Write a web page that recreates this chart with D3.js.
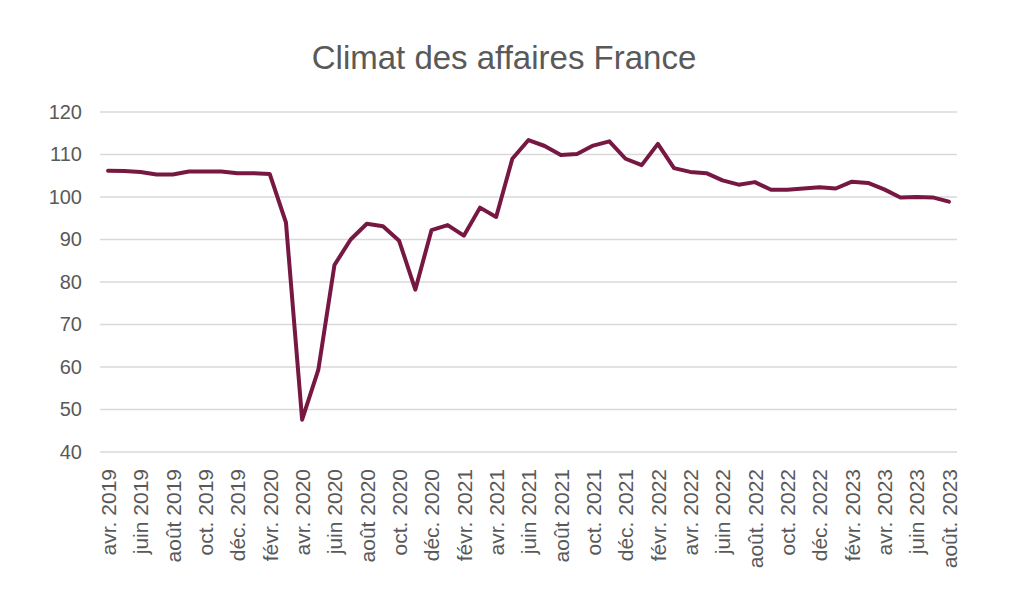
<!DOCTYPE html>
<html>
<head>
<meta charset="utf-8">
<script src="https://cdn.jsdelivr.net/npm/d3@7"></script>
<style>
  body { margin: 0; background: #fff; }
  text { font-family: "Liberation Sans", Arial, sans-serif; fill: #595959; }
</style>
</head>
<body>
<div id="chart"></div>
<script>
// Monthly values, avr. 2019 -> août 2023
const months = [
  "avr. 2019", "mai 2019", "juin 2019", "juil. 2019", "août 2019", "sept. 2019",
  "oct. 2019", "nov. 2019", "déc. 2019", "janv. 2020", "févr. 2020", "mars 2020",
  "avr. 2020", "mai 2020", "juin 2020", "juil. 2020", "août 2020", "sept. 2020",
  "oct. 2020", "nov. 2020", "déc. 2020", "janv. 2021", "févr. 2021", "mars 2021",
  "avr. 2021", "mai 2021", "juin 2021", "juil. 2021", "août 2021", "sept. 2021",
  "oct. 2021", "nov. 2021", "déc. 2021", "janv. 2022", "févr. 2022", "mars 2022",
  "avr. 2022", "mai 2022", "juin 2022", "juil. 2022", "août. 2022", "sept. 2022",
  "oct. 2022", "nov. 2022", "déc. 2022", "janv. 2023", "févr. 2023", "mars 2023",
  "avr. 2023", "mai 2023", "juin 2023", "juil. 2023", "août. 2023"
];
const values = [
  106.2, 106.1, 105.9, 105.3, 105.3, 106, 106, 106, 105.6, 105.6, 105.4, 94,
  47.6, 59.3, 84, 90, 93.7, 93.1, 89.7, 78.2, 92.2, 93.4, 90.9, 97.5,
  95.3, 109, 113.4, 112, 109.9, 110.1, 112.1, 113.1, 109, 107.5, 112.5, 106.8,
  105.9, 105.6, 103.9, 102.9, 103.5, 101.7, 101.7, 102, 102.3, 102, 103.6, 103.3,
  101.8, 99.9, 100, 99.9, 98.9
];
const yTicks = [40, 50, 60, 70, 80, 90, 100, 110, 120];

const width = 1018, height = 604;
const margin = { top: 112, right: 61, bottom: 152, left: 100 };
const innerW = width - margin.left - margin.right;
const innerH = height - margin.top - margin.bottom;

const svg = d3.select("#chart").append("svg")
    .attr("width", width)
    .attr("height", height);

svg.append("text")
    .attr("x", 504)
    .attr("y", 69)
    .attr("text-anchor", "middle")
    .style("font-size", "33px")
    .text("Climat des affaires France");

const g = svg.append("g")
    .attr("transform", `translate(${margin.left},${margin.top})`);

const x = d3.scalePoint()
    .domain(months)
    .range([0, innerW])
    .padding(0.5);

const y = d3.scaleLinear()
    .domain([40, 120])
    .range([innerH, 0]);

// gridlines
g.selectAll(".grid")
    .data(yTicks)
    .enter().append("line")
    .attr("x1", 0)
    .attr("x2", innerW)
    .attr("y1", d => y(d))
    .attr("y2", d => y(d))
    .attr("stroke", "#d9d9d9")
    .attr("stroke-width", 1.3);

// y axis labels
const yAxis = g.append("g")
    .call(d3.axisLeft(y).tickValues(yTicks).tickSize(0).tickPadding(18));
yAxis.select(".domain").remove();
yAxis.selectAll("text")
    .style("font-size", "20px")
    .style("font-family", "Liberation Sans, Arial, sans-serif")
    .attr("fill", "#595959");

// x axis labels, every second month
const xAxis = g.append("g")
    .attr("transform", `translate(0,${innerH})`)
    .call(d3.axisBottom(x)
        .tickValues(months.filter((d, i) => i % 2 === 0))
        .tickSize(0));
xAxis.select(".domain").remove();
xAxis.selectAll("text")
    .style("font-size", "21px")
    .style("font-family", "Liberation Sans, Arial, sans-serif")
    .attr("fill", "#595959")
    .attr("transform", "rotate(-90)")
    .attr("text-anchor", "end")
    .attr("x", -17)
    .attr("y", 0)
    .attr("dy", "0.35em");

// the line
const line = d3.line()
    .x((d, i) => x(months[i]))
    .y(d => y(d));

g.append("path")
    .datum(values)
    .attr("fill", "none")
    .attr("stroke", "#771843")
    .attr("stroke-width", 4)
    .attr("stroke-linejoin", "round")
    .attr("stroke-linecap", "round")
    .attr("d", line);
</script>
</body>
</html>
